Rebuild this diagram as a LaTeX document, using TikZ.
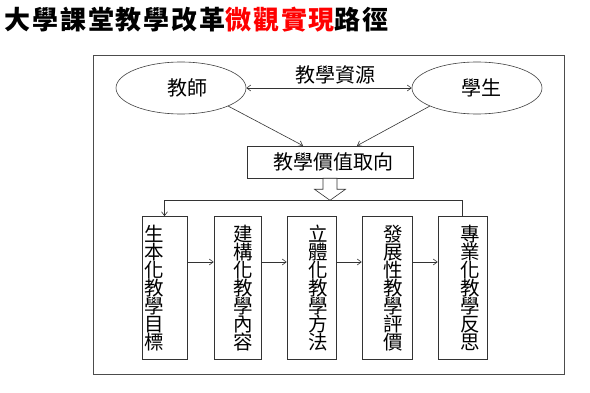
\documentclass[tikz,border=0pt]{standalone}
\usepackage{fontspec}
\usepackage{xcolor}
\usetikzlibrary{arrows.meta,positioning,calc,shapes.geometric}
\newfontfamily\cjk{Noto Sans CJK TC}
\newfontfamily\cjktitle[LetterSpace=7]{Noto Sans CJK TC}
% vertical text: left pad, right pad, characters (one per \cr)
\newcommand{\vt}[3]{\hspace*{#1}\vbox{\baselineskip=18pt\lineskiplimit=-\maxdimen
  \halign{\hfil##\hfil\cr#3\cr}}\hspace*{#2}}

\begin{document}
\begin{tikzpicture}[x=1pt, y=-1pt, font=\cjk\fontsize{20}{20}\selectfont, line width=0.6pt,
  el/.style={draw=black!75, ellipse, minimum width=130pt, minimum height=52pt, inner sep=0pt},
  b/.style={draw=black!80, minimum height=32pt, minimum width=166pt, inner sep=0pt},
  v/.style={draw=black!80, minimum height=143pt, inner sep=2pt, font=\cjk\fontsize{19.5}{18}\selectfont},
  ar/.style={-{Straight Barb[length=4pt,width=6pt]}, draw=black!80}]
  \useasboundingbox (0,0) rectangle (590,393);
  \node[anchor=west, font=\cjktitle\bfseries\fontsize{26}{26}\selectfont] (title) at (1,20)
    {大學課堂教學改革\textcolor{red}{微觀實現}路徑};
  \draw[black!70] (93,55) rectangle (564,374);
  \node[el] (t) at (181,88) {\hspace*{12pt}教師};
  \node[el] (s) at (477,88) {\hspace*{8pt}學生};
  \node (res) at (335,75) {教學資源};
  \node[b] (val) at (330,162) {\hspace*{6pt}教學價值取向};
  \node[v, minimum width=45pt] (b1) at (164.5,288) {\vt{0pt}{20pt}{生\cr 本\cr 化\cr 教\cr 學\cr 目\cr 標}};
  \node[v, minimum width=47pt] (b2) at (237.5,288) {\vt{11pt}{0pt}{建\cr 構\cr 化\cr 教\cr 學\cr 內\cr 容}};
  \node[v, minimum width=49pt] (b3) at (311.5,288) {\vt{13pt}{0pt}{立\cr 體\cr 化\cr 教\cr 學\cr 方\cr 法}};
  \node[v, minimum width=50pt] (b4) at (387,288) {\vt{12pt}{0pt}{發\cr 展\cr 性\cr 教\cr 學\cr 評\cr 價}};
  \node[v, minimum width=49pt] (b5) at (462.5,288) {\vt{15pt}{0pt}{專\cr 業\cr 化\cr 教\cr 學\cr 反\cr 思}};
  \coordinate (row) at (0,262);
  \draw[{Straight Barb[length=4pt,width=6pt]}-{Straight Barb[length=4pt,width=6pt]}, black!80] (t.east) -- (s.west);
  \draw[ar] (t.-21) -- ($(val.north)+(-27,0)$);
  \draw[ar] (s.201) -- ($(val.north)+(27,0)$);
  \draw[black!80, fill=white] (val.south) ++(-7,0) -- ++(0,11) -- ++(-8.5,0) -- ++(15.5,11)
    -- ++(15.5,-11) -- ++(-8.5,0) -- ++(0,-11) -- cycle;
  \draw[ar] (b5.north) -- ++(0,-16) -| (b1.north);
  \foreach \u/\w in {b1/b2,b2/b3,b3/b4,b4/b5} \draw[ar] (\u.east |- row) -- (\w.west |- row);
\end{tikzpicture}
\end{document}
